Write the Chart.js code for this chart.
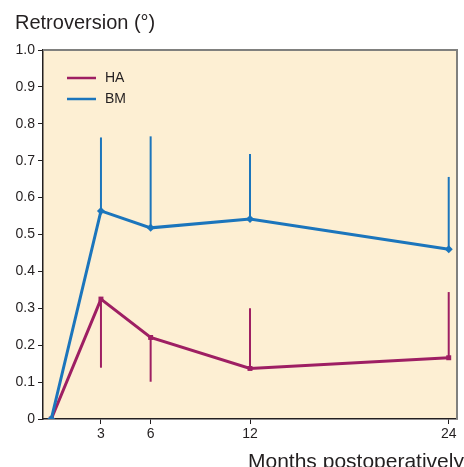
<!DOCTYPE html>
<html>
<head>
<meta charset="utf-8">
<script src="https://cdn.jsdelivr.net/npm/chart.js@4.4.1/dist/chart.umd.min.js"></script>
<style>
  html, body { margin: 0; padding: 0; background: #ffffff; }
  #wrap { position: relative; width: 464px; height: 467px; }
</style>
</head>
<body>
<div id="wrap"><canvas id="retroChart" width="464" height="467"></canvas></div>
<script>
const months = [0, 3, 6, 12, 24];
const xTicks = [3, 6, 12, 24];
const haMean = [0, 0.325, 0.221, 0.137, 0.166];
const haErrEnd = [null, 0.139, 0.101, 0.300, 0.344];
const bmMean = [0, 0.564, 0.518, 0.542, 0.460];
const bmErrEnd = [null, 0.763, 0.766, 0.718, 0.656];
const seriesNames = ["HA", "BM"];
const yTitle = "Retroversion (°)";
const xTitle = "Months postoperatively";

const HA_COLOR = "#9e1f63";
const BM_COLOR = "#1b75bc";
const INK = "#231f20";
const FONT = "'Liberation Sans', Arial, sans-serif";

function toPoints(values) {
  return months.map(function (m, i) { return { x: m, y: values[i] }; });
}

// error bars drawn under the markers
const errorBars = {
  id: "errorBars",
  beforeDatasetsDraw(chart) {
    const ctx = chart.ctx;
    const xs = chart.scales.x;
    const ys = chart.scales.y;
    const sets = [[bmMean, bmErrEnd, BM_COLOR], [haMean, haErrEnd, HA_COLOR]];
    ctx.save();
    ctx.lineWidth = 2;
    sets.forEach(function (s) {
      ctx.strokeStyle = s[2];
      months.forEach(function (m, i) {
        if (s[1][i] === null) return;
        const px = xs.getPixelForValue(m);
        ctx.beginPath();
        ctx.moveTo(px, ys.getPixelForValue(s[0][i]));
        ctx.lineTo(px, ys.getPixelForValue(s[1][i]));
        ctx.stroke();
      });
    });
    ctx.restore();
  }
};

const frame = {
  id: "frame",
  beforeDraw(chart) {
    const a = chart.chartArea;
    const ctx = chart.ctx;
    ctx.save();
    ctx.fillStyle = "#fdefd3";
    ctx.fillRect(a.left, a.top, a.right - a.left, a.bottom - a.top);
    ctx.restore();
  },
  afterDraw(chart) {
    const a = chart.chartArea;
    const ctx = chart.ctx;
    ctx.save();
    ctx.strokeStyle = "#80807e";
    ctx.lineWidth = 2;
    ctx.beginPath();
    ctx.moveTo(a.left, a.top);
    ctx.lineTo(a.right, a.top);
    ctx.lineTo(a.right, a.bottom);
    ctx.stroke();

    // legend
    const colors = [HA_COLOR, BM_COLOR];
    ctx.lineWidth = 2.5;
    ctx.font = "14px " + FONT;
    ctx.fillStyle = INK;
    ctx.textBaseline = "middle";
    seriesNames.forEach(function (name, i) {
      const y = 78 + i * 21;
      ctx.strokeStyle = colors[i];
      ctx.beginPath();
      ctx.moveTo(67, y);
      ctx.lineTo(96, y);
      ctx.stroke();
      ctx.fillText(name, 105, y);
    });

    // axis titles
    ctx.textBaseline = "alphabetic";
    ctx.font = "20px " + FONT;
    ctx.fillText(yTitle, 15, 29);
    ctx.font = "21px " + FONT;
    ctx.fillText(xTitle, 248, 468);
    ctx.restore();
  }
};

new Chart(document.getElementById("retroChart"), {
  type: "line",
  data: {
    datasets: [
      {
        label: seriesNames[1],
        data: toPoints(bmMean),
        borderColor: BM_COLOR,
        backgroundColor: BM_COLOR,
        borderWidth: 3,
        pointStyle: "rectRot",
        pointRadius: 4,
        pointBorderWidth: 0,
        tension: 0
      },
      {
        label: seriesNames[0],
        data: toPoints(haMean),
        borderColor: HA_COLOR,
        backgroundColor: HA_COLOR,
        borderWidth: 3,
        pointStyle: "rect",
        pointRadius: 3.5,
        pointBorderWidth: 0,
        tension: 0
      }
    ]
  },
  options: {
    responsive: false,
    animation: false,
    layout: { padding: { top: 50, right: 7, left: 0, bottom: 0 } },
    plugins: {
      legend: { display: false },
      tooltip: { enabled: false }
    },
    scales: {
      x: {
        type: "linear",
        min: -0.5,
        max: 24.5,
        afterBuildTicks: function (scale) {
          scale.ticks = xTicks.map(function (v) { return { value: v }; });
        },
        afterFit: function (scale) { scale.height = 48; },
        border: { color: INK, width: 1.5 },
        grid: { drawOnChartArea: false, drawTicks: true, tickLength: 5, color: INK },
        ticks: {
          padding: 2,
          color: INK,
          font: { family: FONT, size: 14 },
          maxRotation: 0,
          autoSkip: false
        }
      },
      y: {
        min: 0,
        max: 1,
        afterFit: function (scale) { scale.width = 43; },
        border: { color: INK, width: 1.5 },
        grid: { drawOnChartArea: false, drawTicks: true, tickLength: 5, color: INK },
        ticks: {
          stepSize: 0.1,
          padding: 3,
          color: INK,
          font: { family: FONT, size: 14 },
          callback: function (v) { return v === 0 ? "0" : Number(v).toFixed(1); }
        }
      }
    }
  },
  plugins: [frame, errorBars]
});
</script>
</body>
</html>
